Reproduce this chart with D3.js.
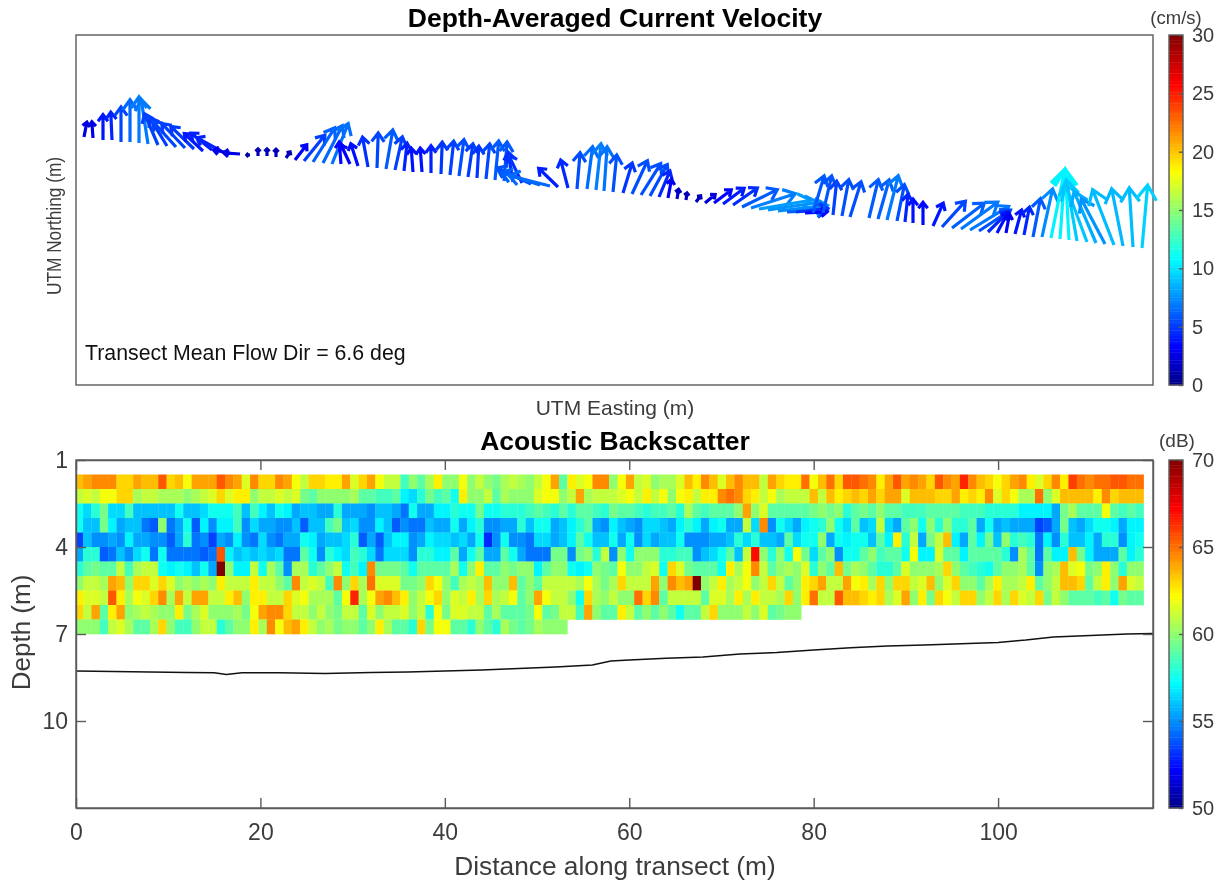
<!DOCTYPE html>
<html><head><meta charset="utf-8">
<script src="https://cdn.jsdelivr.net/npm/d3@7"></script>
<style>html,body{margin:0;padding:0;background:#fff}svg{display:block;filter:blur(0.6px)}text{font-family:"Liberation Sans",Arial,sans-serif}</style>
</head><body><div id="chart"></div>
<script>
// ---- Quiver data: relative easting / northing of each ensemble, velocity in mm/s
const eastingRel=[8,17,27,36,45,54,63,72,82,91,100,109,118,127,136,145,154,164,174,182,191,200,210,219,228,237,247,256,265,274,282,292,301,310,319,328,337,346,355,365,374,383,392,401,410,419,428,437,446,455,464,474,482,492,501,511,520,528,537,547,556,565,574,583,592,601,610,620,629,638,647,657,666,675,683,692,702,711,720,729,737,747,757,766,774,793,802,811,821,829,837,847,857,866,876,885,894,903,912,921,930,939,948,957,966,975,984,993,1001,1011,1020,1029,1038,1047,1057,1066];
const northingRel=[248,247,245,245,243,243,242,241,240,239,238,237,236,234,235,234,232,231,230,229,229,228,227,225,224,223,222,221,221,221,219,218,217,216,215,214,213,213,212,211,210,209,208,207,206,205,204,203,202,201,200,199,198,197,196,196,195,194,193,192,191,190,189,188,187,186,185,183,182,182,181,180,178,177,176,175,174,173,173,172,172,172,170,169,168,167,166,165,164,163,162,160,159,158,157,156,155,154,153,152,152,151,150,148,148,147,146,145,144,143,142,141,140,139,138,137];
const velU=[5,-2,0,-2,0,0,0,-11,-22,-28,-38,-38,-38,-31,-35,-40,-28,-28,-8,0,0,0,8,20,34,35,31,26,-3,-15,-12,-9,2,11,12,5,-3,-3,0,2,6,8,8,3,6,6,5,-8,-22,-55,-62,-66,-32,-12,5,9,8,5,6,15,25,32,28,18,6,3,2,9,18,29,35,40,57,71,83,80,79,65,52,37,18,14,6,11,18,15,18,18,12,5,0,0,17,38,52,59,62,51,34,18,6,11,9,12,17,22,8,-6,-17,-34,-35,-38,-34,-18,-6,9];
const velV=[26,28,42,46,57,68,74,72,51,46,42,40,37,29,28,22,5,2,0,14,14,15,12,26,42,55,60,65,37,32,37,49,57,63,54,46,40,40,45,52,55,59,54,52,57,63,63,49,46,26,20,17,31,46,59,68,74,71,60,49,54,51,51,43,32,18,14,12,15,22,26,28,28,23,14,12,9,3,6,2,60,60,55,59,57,62,63,71,59,46,40,38,38,42,40,43,38,34,34,34,32,40,46,62,77,109,111,112,97,91,82,72,88,91,94,100];
// ---- Backscatter (dB), one array per depth bin, 128 ensembles (shorter where no data)
const bs0=[63.5,64,64.5,64.5,64.5,63,63,64,63.5,63.5,65.5,63,63.5,62,64,64,64,65.5,64.5,64,61.5,64.5,63,63,64.5,64,62,61,63,63,62.5,62.5,64,61.5,63,64,62,61,61,58.5,60,59,60.5,62.5,60,60,62,60,61,60,59.5,60.5,61,60.5,60,61,62,64,59,62.5,61.5,62,64.5,64.5,60,62,64,61,61.5,60,60.5,60.5,61.5,63.5,62.5,64.5,63.5,61.5,63.5,64.5,63.5,63.5,61,64,63,62.5,62.5,65,62,63.5,65,63,65.5,65.5,65,64.5,62.5,64,65.5,64,64.5,64,63,65.5,64.5,64,66.5,64.5,63.5,63,62,63,64,64.5,62.5,61.5,63,64.5,62.5,66,65,64.5,65,65,65.5,65.5,65,65];
const bs1=[61,61.5,61,62,62,63,63,60.5,61,61,60.5,60.5,60.5,60,60.5,61,61.5,63,61.5,62.5,62.5,60,61,61,61.5,61,61.5,59.5,59,60,60,60,60,60.5,59,59,58.5,58.5,59,57,56.5,58,59.5,58.5,59,57.5,62.5,60,60,61,59,60.5,60,60,60,61.5,62,62,60,61,64,60.5,61,61,61,61.5,62,61,62.5,61,62,60,62,62.5,61,62.5,62.5,64.5,65,64.5,63,62.5,61,62,60.5,61,61,61,63.5,61,63.5,62.5,63,63.5,63,64,63,64,64,61.5,63.5,63.5,63.5,63,63,64,62.5,63,62.5,64.5,61.5,63,62,60.5,60.5,65,60,61.5,63.5,63.5,63.5,63.5,62.5,64.5,63,63.5,63.5,63.5];
const bs2=[57.5,56.5,58,59.5,56.5,56.5,58.5,56,56,56,56,56,57.5,56,56,56.5,57.5,57.5,57.5,58.5,56,58.5,57,56,57.5,57,55.5,56,56,55.5,55.5,58,55.5,55.5,55.5,55,56,56,55.5,54.5,57.5,55.5,55.5,57,57,58,57.5,57.5,59.5,57.5,57.5,58,58,58,58.5,59,58.5,58,59,58,59,59,58.5,58,59.5,59,59,58.5,58,58.5,58.5,59,58,60.5,59,58.5,59,59,59,60,64,60,61.5,59,59,59,59,59,59.5,60,59.5,60,58,59,59.5,59,60,59,59,58.5,58.5,58.5,59,59,59,59,58.5,58.5,58.5,58,58,58,58,57,57,57,57,55.5,59.5,60.5,59,59,59,62,59,58.5,59,58.5];
const bs3=[57.5,56,56,59.5,57,55.5,56,56,54.5,54,60,54.5,55.5,57.5,54,57,55,57,57,58.5,55,56.5,55.5,55.5,55,55,56,54,56,56,58.5,59.5,56,56.5,55,55,57,56,54,55,54.5,54.5,56,55.5,55.5,57.5,55.5,57,58,55,55,55.5,55.5,58,56,57.5,57.5,55.5,56,57,58,59,55.5,55,57,56,55.5,55,56.5,56.5,56,55.5,57,58,57,55.5,57,57.5,55.5,55.5,61,56.5,64.5,55,57.5,56.5,55.5,57,57.5,58,60,57.5,56.5,59,56,56.5,61,56.5,55.5,59,60,57.5,60,58,60,58,58,59,55.5,57.5,55.5,56,55.5,55.5,55.5,53.5,54,55.5,59.5,56,55.5,56.5,57.5,57.5,57,55.5,57,57];
const bs4=[53.5,56,55,55,55.5,55,57,55.5,55.5,55,55,54,55.5,58,54.5,55,53.5,55.5,55,57,55,54.5,56.5,55,54.5,55.5,55.5,57.5,57,55.5,56,56,56.5,58,54,55.5,54,56,57,57,55,55.5,57,56.5,56.5,56,56.5,55.5,57.5,53,55,57.5,55,55,54.5,56.5,56.5,55.5,56,57,59,57.5,56,56,57.5,55.5,57.5,55,56.5,55.5,56,56,57.5,55,55,55,55.5,55.5,56,58,56.5,58,56,56,55.5,59,56.5,57.5,57.5,60,55.5,57.5,57,57.5,57.5,56,59,57,62.5,58,61,55.5,59.5,61,63.5,57,55.5,59,57,59.5,56,60,58,58.5,58,54.5,57,55,58,56,56,57,55.5,58,58,55,57,57.5];
const bs5=[55.5,58,58,54,54.5,56,55,56.5,57.5,54.5,57.5,54.5,54.5,54.5,54.5,54,54.5,65.5,57,56,56.5,56,56.5,56,56.5,54.5,54.5,59,57.5,55,58,57,56.5,58.5,58,56.5,54.5,56.5,56.5,56.5,55,58,58,57,57,59,55.5,57.5,59,55.5,55.5,59,57.5,55.5,54.5,54.5,54.5,59.5,59.5,55,59.5,60,58,61,55,60,57.5,60,60,60,58,58,58.5,58.5,55,56,56.5,57.5,59,56,61,67,60,58,60,57.5,62,59.5,56.5,59,60,55,57.5,57.5,59,60,58.5,59,59,57.5,62,57,57,61.5,59,59,57,59,59,59,59,58,55,60.5,59,54.5,59,57,57,63.5,59.5,57,55.5,55.5,55.5,59,57,58];
const bs6=[58,59,59.5,59,59,61,58.5,60.5,61,61,57.5,57,57.5,57,56,57.5,55.5,70,60,57,57,61,57.5,60.5,59,55,60.5,60.5,58,59,60,61,57.5,58.5,57,64.5,59.5,59.5,59.5,59,57.5,59,59,59,59,60.5,57.5,60,62.5,59,59,60,59.5,60,60,57,59,60,60,57.5,57,57.5,60,59.5,59,62,60,60,61,61.5,57.5,63,61.5,59.5,59,59,59,57.5,62.5,60.5,62,64.5,61,59,60,60.5,60,61.5,58,60,59,63.5,59.5,60.5,60,59,58,58,59,61.5,60,60,60,60.5,63,60,59,58.5,58,57.5,59,60,60,60.5,59,55,60,60.5,63.5,61.5,62,59.5,60,62.5,60,58,60,60];
const bs7=[60,61,61,60.5,64,63.5,60,63,63,61.5,63,61.5,60,60.5,60,60.5,60,62.5,61,61,61,62.5,61,61,60,59,64.5,61,61.5,61,58.5,64.5,60,63,60.5,65,61.5,61.5,61.5,59.5,59.5,60,63,62,60,58.5,60.5,61,60.5,63.5,60,60,63.5,59,60,59,61,61,61,61,60.5,62,60.5,59.5,60.5,63,61,61,61,64,60,64.5,63.5,64,70,60,61,62.5,60.5,61,62,60,61,63,61,59,60,62.5,63,64,61,61,64,62,62.5,60.5,63,60,63,63,61,61.5,63.5,60,61.5,63,60,60,59,60.5,62.5,60.5,60.5,61,62.5,59,60,61,63.5,63.5,63,59,61,62.5,60,64,61.5,61];
const bs8=[62.5,61.5,61.5,61,65.5,62.5,60.5,62,61.5,63,64.5,60.5,64,61,64,64,61,61,62.5,63.5,60,62.5,62.5,61,61,63,61.5,62,60.5,60.5,60.5,59,62,66.5,60.5,62,64,64.5,63.5,62.5,60,61,62,63,60,61.5,61,62.5,60.5,63,60.5,61,62,59,60,64,62,61,61,60,57.5,63,60.5,60,61,60,60,65,63,64.5,59,61,61,61,61,59,61.5,61.5,60.5,62.5,60.5,62.5,61,61,60.5,63,60,62.5,65,61,61,65.5,63.5,63.5,63,62.5,63,60.5,61.5,64,60,62.5,59.5,63,62,61,63,63,60,61,63,60.5,63,61.5,61,63,59.5,61,60,59,59,59,58.5,59,57.5,59.5,59,59];
const bs9=[63,61,64,59,62.5,64,60,60.5,61,60.5,60,60,62.5,59.5,60.5,61.5,60,60,60,60.5,59.5,62,64,64.5,64.5,63,61,61,60,61,60,59.5,61,61,59,61.5,60,61,61,61.5,60,61,58,62,59.5,61.5,61.5,61,61,59,60.5,59,59,59,59.5,62,59,59.5,61,61,58.5,64,60,59,59,62.5,61,59,60,59,60,59,57.5,59,59,61,63,60,60,60,61,60,61.5,59,59.5,60,60];
const bs10=[60,60,60,58.5,61,61.5,60.5,59,59,60.5,63,60,58.5,58.5,60,61,61,58,59,60,60,62.5,60.5,64.5,62,63.5,64,62.5,61,60,60.5,59.5,60,60,59,60,62.5,60.5,59,59,58,63,59.5,62,62,59,59,58,60,59,58,60.5,59.5,59,59.5,60.5,60,60,60];
const backscatterRows=[bs0,bs1,bs2,bs3,bs4,bs5,bs6,bs7,bs8,bs9,bs10];
// ---- Bottom track (m)
const bottomDist=[0,4,8,12,15,16.3,18,22,27,32,36,40,44,48,52,56,58,60,64,68,72,76,80,84,88,92,96,100,103,106,110,114,116.8];
const bottomDepth=[8.28,8.29,8.31,8.33,8.34,8.40,8.34,8.34,8.36,8.33,8.31,8.28,8.24,8.19,8.14,8.07,7.93,7.90,7.84,7.79,7.69,7.64,7.55,7.47,7.41,7.38,7.34,7.29,7.21,7.10,7.05,7.00,6.98];
// ---- Ticks and labels
const distTicks=[0,20,40,60,80,100];
const depthTicks=[1,4,7,10];
const speedTicks=[0,5,10,15,20,25,30];
const dbTicks=[50,55,60,65,70];
const binWidthM=0.9056, binOriginM=-0.14, firstDepth=1.5, cellDepth=0.5;
const velocityCalibration=0.94; // arrow length is read more reliably than colour; ties them together

const W=1228,H=886, L=76,R=1153, T1=35,B1=385, T2=460,B2=808, CB0=1169,CB1=1183;
const AX="#5a5a5a", TX="#3c3c3c";
const jet=d3.scaleLinear().domain([0,.11,.36,.61,.86,1]).range(["#000084","#0000ff","#00ffff","#ffff00","#ff0000","#800000"]).clamp(true);
const svg=d3.select("#chart").append("svg").attr("width",W).attr("height",H);

// scales
const xE=d3.scaleLinear([0,1077],[L,R]);
const yN=d3.scaleLinear([0,350],[B1,T1]);
const arrowLen=d3.scaleLinear([0,300],[0,207.5]);
const xD=d3.scaleLinear([0,116.8],[L,R]);
const yD=d3.scaleLinear([1,13],[T2,B2]);
const cSpeed=d3.scaleLinear([0,30],[0,1]);
const cDb=d3.scaleLinear([50,70],[0,1]);

// top panel
svg.append("rect").attr("x",L).attr("y",T1).attr("width",R-L).attr("height",B1-T1).attr("fill","none").attr("stroke",AX).attr("stroke-width",1.4);
const qg=svg.append("g").attr("fill","none").attr("stroke-width",3.2).attr("stroke-linejoin","miter").attr("stroke-linecap","butt");
eastingRel.forEach((e,i)=>{
  const u=velU[i]*velocityCalibration,v=velV[i]*velocityCalibration,sp=Math.hypot(u,v)/10;
  const x0=xE(e),y0=yN(northingRel[i]),dx=arrowLen(u),dy=-arrowLen(v),len=Math.hypot(dx,dy);
  if(len===0)return;
  const ux=dx/len,uy=dy/len,x1=x0+dx,y1=y0+dy,along=0.22*len+2.5,half=0.135*len+1.3;
  const bx=x1-ux*along,by=y1-uy*along;
  const p=d3.path();
  p.moveTo(x0,y0);p.lineTo(x1-ux*2,y1-uy*2);
  p.moveTo(bx-uy*half,by+ux*half);p.lineTo(x1-ux*2,y1-uy*2);p.lineTo(bx+uy*half,by-ux*half);
  qg.append("path").attr("d",p.toString()).attr("stroke",jet(cSpeed(sp)));
});

// bottom panel
const defs=svg.append("defs");
defs.append("clipPath").attr("id","clipB").append("rect").attr("x",L).attr("y",T2).attr("width",R-L).attr("height",B2-T2);
const hg=svg.append("g").attr("clip-path","url(#clipB)");
backscatterRows.forEach((row,r)=>{
  row.forEach((val,c)=>{
    const x0=xD(binOriginM+c*binWidthM),x1=xD(binOriginM+(c+1)*binWidthM);
    const y0=yD(firstDepth+r*cellDepth),y1=yD(firstDepth+(r+1)*cellDepth);
    hg.append("rect").attr("x",x0).attr("y",y0).attr("width",x1-x0+0.3).attr("height",y1-y0+0.3).attr("fill",jet(cDb(val)));
  });
});
hg.append("path").attr("d",d3.line().x(d=>xD(d[0])).y(d=>yD(d[1]))(bottomDist.map((d,i)=>[d,bottomDepth[i]]))).attr("fill","none").attr("stroke","#111").attr("stroke-width",1.5);

function styleAxis(g,size){g.selectAll("path,line").attr("stroke",AX).attr("stroke-width",1.4);g.selectAll("text").attr("fill",TX).attr("font-size",size);}
const tl=10;
svg.append("rect").attr("x",L).attr("y",T2).attr("width",R-L).attr("height",B2-T2).attr("fill","none").attr("stroke",AX).attr("stroke-width",1.4);
styleAxis(svg.append("g").attr("transform",`translate(0,${B2})`).call(d3.axisBottom(xD).tickValues(distTicks).tickSize(-tl).tickPadding(16).tickSizeOuter(0)),23);
styleAxis(svg.append("g").attr("transform",`translate(0,${T2})`).call(d3.axisTop(xD).tickValues(distTicks).tickSize(-tl).tickFormat("").tickSizeOuter(0)),23);
styleAxis(svg.append("g").attr("transform",`translate(${L},0)`).call(d3.axisLeft(yD).tickValues(depthTicks).tickSize(-tl).tickPadding(8).tickSizeOuter(0)),23);
styleAxis(svg.append("g").attr("transform",`translate(${R},0)`).call(d3.axisRight(yD).tickValues(depthTicks).tickSize(-tl).tickFormat("").tickSizeOuter(0)),23);

// colour bars
function colorbar(top,bottom,dom,ticks,scale){
  const y=d3.scaleLinear(dom,[bottom,top]);
  const g=svg.append("g");
  d3.range(128).forEach(i=>{
    const a=dom[0]+(dom[1]-dom[0])*i/128,b=dom[0]+(dom[1]-dom[0])*(i+1)/128;
    g.append("rect").attr("x",CB0).attr("y",y(b)).attr("width",CB1-CB0).attr("height",y(a)-y(b)+0.4).attr("fill",jet(scale((a+b)/2)));
  });
  g.append("rect").attr("x",CB0).attr("y",top).attr("width",CB1-CB0).attr("height",bottom-top).attr("fill","none").attr("stroke",AX).attr("stroke-width",1.4);
  const ax=svg.append("g").attr("transform",`translate(${CB1},0)`).call(d3.axisRight(y).tickValues(ticks).tickSize(-4).tickPadding(9).tickSizeOuter(0));
  styleAxis(ax,20);ax.select(".domain").remove();
}
colorbar(T1,B1,[0,30],speedTicks,cSpeed);
colorbar(T2,B2,[50,70],dbTicks,cDb);

// text
function label(x,y,s,size,opts={}){
  const t=svg.append("text").attr("x",x).attr("y",y).text(s).attr("font-size",size).attr("fill",opts.fill||TX).attr("text-anchor",opts.anchor||"middle");
  if(opts.bold)t.attr("font-weight","bold");
  if(opts.rot)t.attr("transform",`rotate(-90 ${x} ${y})`);
  if(opts.fit)t.attr("textLength",opts.fit).attr("lengthAdjust","spacingAndGlyphs");
  return t;
}
label(615,26.5,"Depth-Averaged Current Velocity",26.5,{bold:true,fill:"#000"});
label(615,450,"Acoustic Backscatter",26.5,{bold:true,fill:"#000"});
label(615,415,"UTM Easting (m)",21);
label(61,226,"UTM Northing (m)",20,{rot:true,fit:138});
label(85,359.5,"Transect Mean Flow Dir = 6.6 deg",21.3,{anchor:"start",fill:"#111"});
label(30,632.5,"Depth (m)",26,{rot:true});
label(615,875,"Distance along transect (m)",26.3);
label(1176,24,"(cm/s)",18.5);
label(1177,447,"(dB)",19);
</script></body></html>
